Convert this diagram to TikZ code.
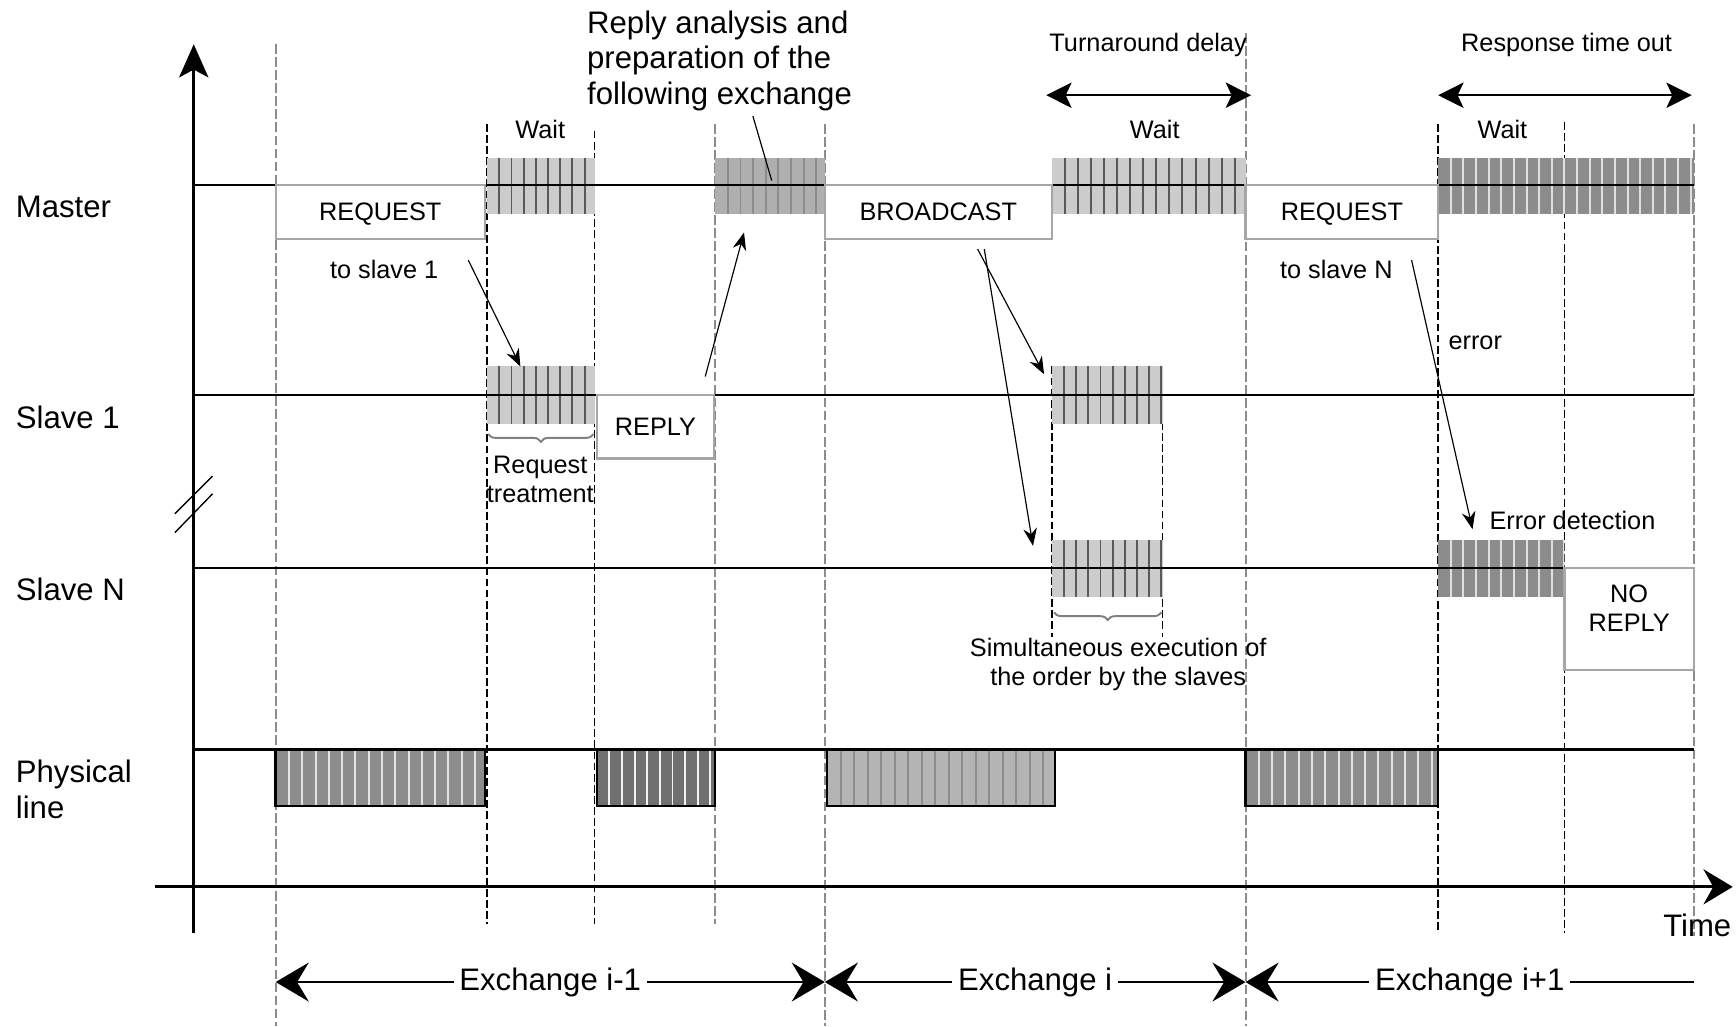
\documentclass[tikz,border=0pt]{standalone}
\usepackage{fontspec}
\setmainfont{Liberation Sans}
\usetikzlibrary{arrows.meta,calc,decorations.pathreplacing}

\definecolor{waitgray}{HTML}{CCCCCC}
\definecolor{prepgray}{HTML}{AFAFAF}
\definecolor{timeoutgray}{HTML}{8C8C8C}
\definecolor{reqgray}{HTML}{8C8C8C}
\definecolor{replygray}{HTML}{707070}
\definecolor{bcgray}{HTML}{B4B4B4}
\definecolor{guidegray}{HTML}{8C8C8C}

\tikzset{
    smalltext/.style={font=\fontsize{13}{14.7}\selectfont},
    bigtext/.style={font=\fontsize{16}{18.4}\selectfont},
    msgbox/.style={draw=gray!70, line width=1.2pt, fill=white, rectangle, inner sep=0pt, outer sep=0pt, smalltext},
    slot/.style={rectangle, inner sep=0pt, outer sep=0pt},
    stripes/.style 2 args={path picture={
        \foreach \k in {1,...,25}
            \draw[#2, line width=1pt] ($(path picture bounding box.south west)+(\k*#1,0)$) -- ($(path picture bounding box.north west)+(\k*#1,0)$);}},
    arr/.style={-{Stealth[length=9pt, width=7pt]}, line width=0.6pt},
    spanarr/.style={{Stealth[length=13pt, width=13pt, inset=3pt]}-{Stealth[length=13pt, width=13pt, inset=3pt]}, line width=1.3pt},
    extip/.tip={Stealth[length=17pt, width=20pt, inset=6pt]},
    exarr/.style={line width=1.2pt}
}

\begin{document}
\begin{tikzpicture}[x=0.02cm, y=-0.02cm,
    guidegrey/.style={guidegray, line width=1pt, dash pattern=on 5pt off 1.7pt},
    guideblack/.style={black, line width=0.8pt, dash pattern=on 4pt off 1.7pt}]
    \useasboundingbox (0,0) rectangle (1568,927);

    % --- Guides ---
    \foreach \gx/\gtop/\gbot in {249/40/927, 646/112/835, 745/112/927, 1125/30/927, 1530/112/845}
        \draw[guidegrey] (\gx,\gtop) -- (\gx,\gbot);
    \foreach \gx/\gtop/\gbot in {440/112/835, 537/118/835, 1299/112/843, 1413/110/843, 950/331/575, 1050/331/575}
        \draw[guideblack] (\gx,\gtop) -- (\gx,\gbot);

    % --- Axes ---
    \coordinate (origin) at (175,843);
    \coordinate (ytop) at (175,40);
    \coordinate (xleft) at (140,801);
    \coordinate (xright) at (1565,801);
    \draw[line width=1.5pt, -{Stealth[length=17pt, width=15pt, inset=4pt]}] (origin) -- (ytop);
    \draw[line width=1.5pt, -{Stealth[length=15pt, width=18pt, inset=5pt]}] (xleft) -- (xright);
    \draw[line width=0.7pt] (158,464) -- (192,430) (158,481) -- (192,446);
    \node [bigtext] (time) at (1533,836) {Time};

    % --- Striped slots ---
    \node [slot, fill=waitgray, stripes={11}{black!65}, minimum width=1.94cm, minimum height=1.0cm] (mwait1) at (488.5,168) {};
    \node [slot, fill=prepgray, stripes={11.4}{black!45}, minimum width=1.98cm, minimum height=1.0cm] (mprep) at (695.5,168) {};
    \node [slot, fill=waitgray, stripes={11.8}{black!65}, minimum width=3.5cm, minimum height=1.0cm] (mwait2) at (1037.5,168) {};
    \node [slot, fill=timeoutgray, stripes={11.4}{white!75!gray}, minimum width=4.62cm, minimum height=1.0cm] (mwait3) at (1414.5,168) {};
    \node [slot, fill=waitgray, stripes={11}{black!65}, minimum width=1.94cm, minimum height=1.04cm] (s1exe) at (488.5,357) {};
    \node [slot, fill=waitgray, stripes={11}{black!65}, minimum width=2.0cm, minimum height=1.04cm] (s1bc) at (1000,357) {};
    \node [slot, fill=waitgray, stripes={11}{black!65}, minimum width=2.0cm, minimum height=1.02cm] (snbc) at (1000,513.5) {};
    \node [slot, fill=timeoutgray, stripes={11.4}{white!75!gray}, minimum width=2.28cm, minimum height=1.02cm] (snerr) at (1356,513.5) {};

    % --- Physical line slots ---
    \node [slot, draw, line width=1.3pt, fill=reqgray, stripes={12}{white!78!gray}, minimum width=3.78cm, minimum height=1.02cm] (p1) at (343.5,702.5) {};
    \node [slot, draw, line width=1.3pt, fill=replygray, stripes={11.4}{white!90!gray}, minimum width=2.14cm, minimum height=1.02cm] (p2) at (592.5,702.5) {};
    \node [slot, draw, line width=1.3pt, fill=bcgray, stripes={12.2}{black!45}, minimum width=4.12cm, minimum height=1.02cm] (p3) at (850,702.5) {};
    \node [slot, draw, line width=1.3pt, fill=reqgray, stripes={12}{white!78!gray}, minimum width=3.48cm, minimum height=1.02cm] (p4) at (1212,702.5) {};

    % --- Level lines ---
    \coordinate (m0) at (175,167);   \coordinate (m1) at (1530,167);
    \coordinate (s0) at (175,357);   \coordinate (s1) at (1530,357);
    \coordinate (n0) at (175,513);   \coordinate (n1) at (1530,513);
    \coordinate (l0) at (175,677);   \coordinate (l1) at (1530,677);
    \draw[line width=1.2pt] (m0) -- (m1) (s0) -- (s1) (n0) -- (n1) (l0) -- (l1);

    % --- Frames ---
    \node [msgbox, text depth=0pt, minimum width=3.78cm, minimum height=0.98cm] (mreq1) at (343.5,191.5) {REQUEST};
    \node [msgbox, text depth=0pt, minimum width=4.1cm, minimum height=0.98cm] (mbc) at (847.5,191.5) {BROADCAST};
    \node [msgbox, text depth=0pt, minimum width=3.48cm, minimum height=0.98cm] (mreq2) at (1212,191.5) {REQUEST};
    \node [msgbox, text depth=0pt, minimum width=2.12cm, minimum height=1.14cm] (s1rep) at (592,385.5) {REPLY};
    \node [msgbox, align=center, text depth=11pt, minimum width=2.34cm, minimum height=1.84cm] (snno) at (1471.5,559) {NO\\REPLY};

    % --- Row labels ---
    \node [bigtext, anchor=west, inner sep=0pt] (lmaster) at (14,187) {Master};
    \node [bigtext, anchor=west, inner sep=0pt] (lslave1) at (14,377) {Slave 1};
    \node [bigtext, anchor=west, inner sep=0pt] (lslaveN) at (14,532) {Slave N};
    \node [bigtext, anchor=west, inner sep=0pt, align=left] (lphys) at (14,713) {Physical\\line};

    % --- Labels ---
    \node [smalltext] (wait1) at (488,117) {Wait};
    \node [smalltext] (wait2) at (1043,117) {Wait};
    \node [smalltext] (wait3) at (1357,117) {Wait};
    \node [smalltext] (to1) at (347,243) {to slave 1};
    \node [smalltext] (toN) at (1207,243) {to slave N};
    \node [smalltext, align=center, inner sep=0pt] (treat) at (488,433) {Request\\treatment};
    \node [smalltext, align=center, inner sep=0pt] (simul) at (1010,600) {Simultaneous execution of\\the order by the slaves};
    \node [smalltext, anchor=west, inner sep=0pt] (err) at (1308,310) {error};
    \node [smalltext, anchor=west, inner sep=0pt] (errdet) at (1345,470) {Error detection};
    \node [bigtext, anchor=west, inner sep=0pt, align=left] (prepnote) at (530,55) {Reply analysis and\\preparation of the\\following exchange};
    \node [smalltext] (turn) at (1037,41) {Turnaround delay};
    \node [smalltext] (resp) at (1415,41) {Response time out};

    % --- Braces ---
    \draw[gray, line width=1pt, decorate, decoration={brace, amplitude=4pt, mirror}] ($(s1exe.south west)+(1,9)$) -- ($(s1exe.south east)+(-1,9)$);
    \draw[gray, line width=1pt, decorate, decoration={brace, amplitude=4pt, mirror}] ($(snbc.south west)+(2,14)$) -- ($(snbc.south east)+(-1,14)$);

    % --- Pointers ---
    \draw[arr] ($(mreq1.south east)+(-15,19)$) -- ($(s1exe.north west)+(30,0)$);
    \draw[arr] ($(s1rep.north east)+(-8,-17)$) -- ($(mprep.south west)+(26,17)$);
    \draw[line width=0.6pt] ($(prepnote.south west)+(150,4)$) -- ($(mprep.north west)+(51,20)$);
    \draw[arr] ($(mbc.south west)+(138,9)$) -- ($(s1bc.north west)+(-7,7)$);
    \draw[arr] ($(mbc.south west)+(144,9)$) -- ($(snbc.north west)+(-17,5)$);
    \draw[arr] ($(mreq2.south east)+(-24,19)$) -- ($(snerr.north west)+(31,-10)$);

    % --- Delays ---
    \coordinate (ta0) at (945,86);  \coordinate (ta1) at (1130,86);
    \coordinate (rt0) at (1299,86); \coordinate (rt1) at (1528,86);
    \draw[spanarr] (ta0) -- (ta1);
    \draw[spanarr] (rt0) -- (rt1);

    % --- Exchanges ---
    \coordinate (ex0) at (249,887);  \coordinate (ex1) at (745,887);
    \coordinate (ex2) at (1125,887); \coordinate (ex3) at (1530,887);
    \draw[exarr, extip-extip] (ex0) -- node[bigtext, fill=white, inner sep=3pt] (exa) {Exchange i-1} (ex1);
    \draw[exarr, extip-extip] (ex1) -- node[bigtext, fill=white, inner sep=3pt] (exb) {Exchange i} (ex2);
    \draw[exarr, extip-] (ex2) -- node[bigtext, fill=white, inner sep=3pt] (exc) {Exchange i+1} (ex3);

\end{tikzpicture}
\end{document}
